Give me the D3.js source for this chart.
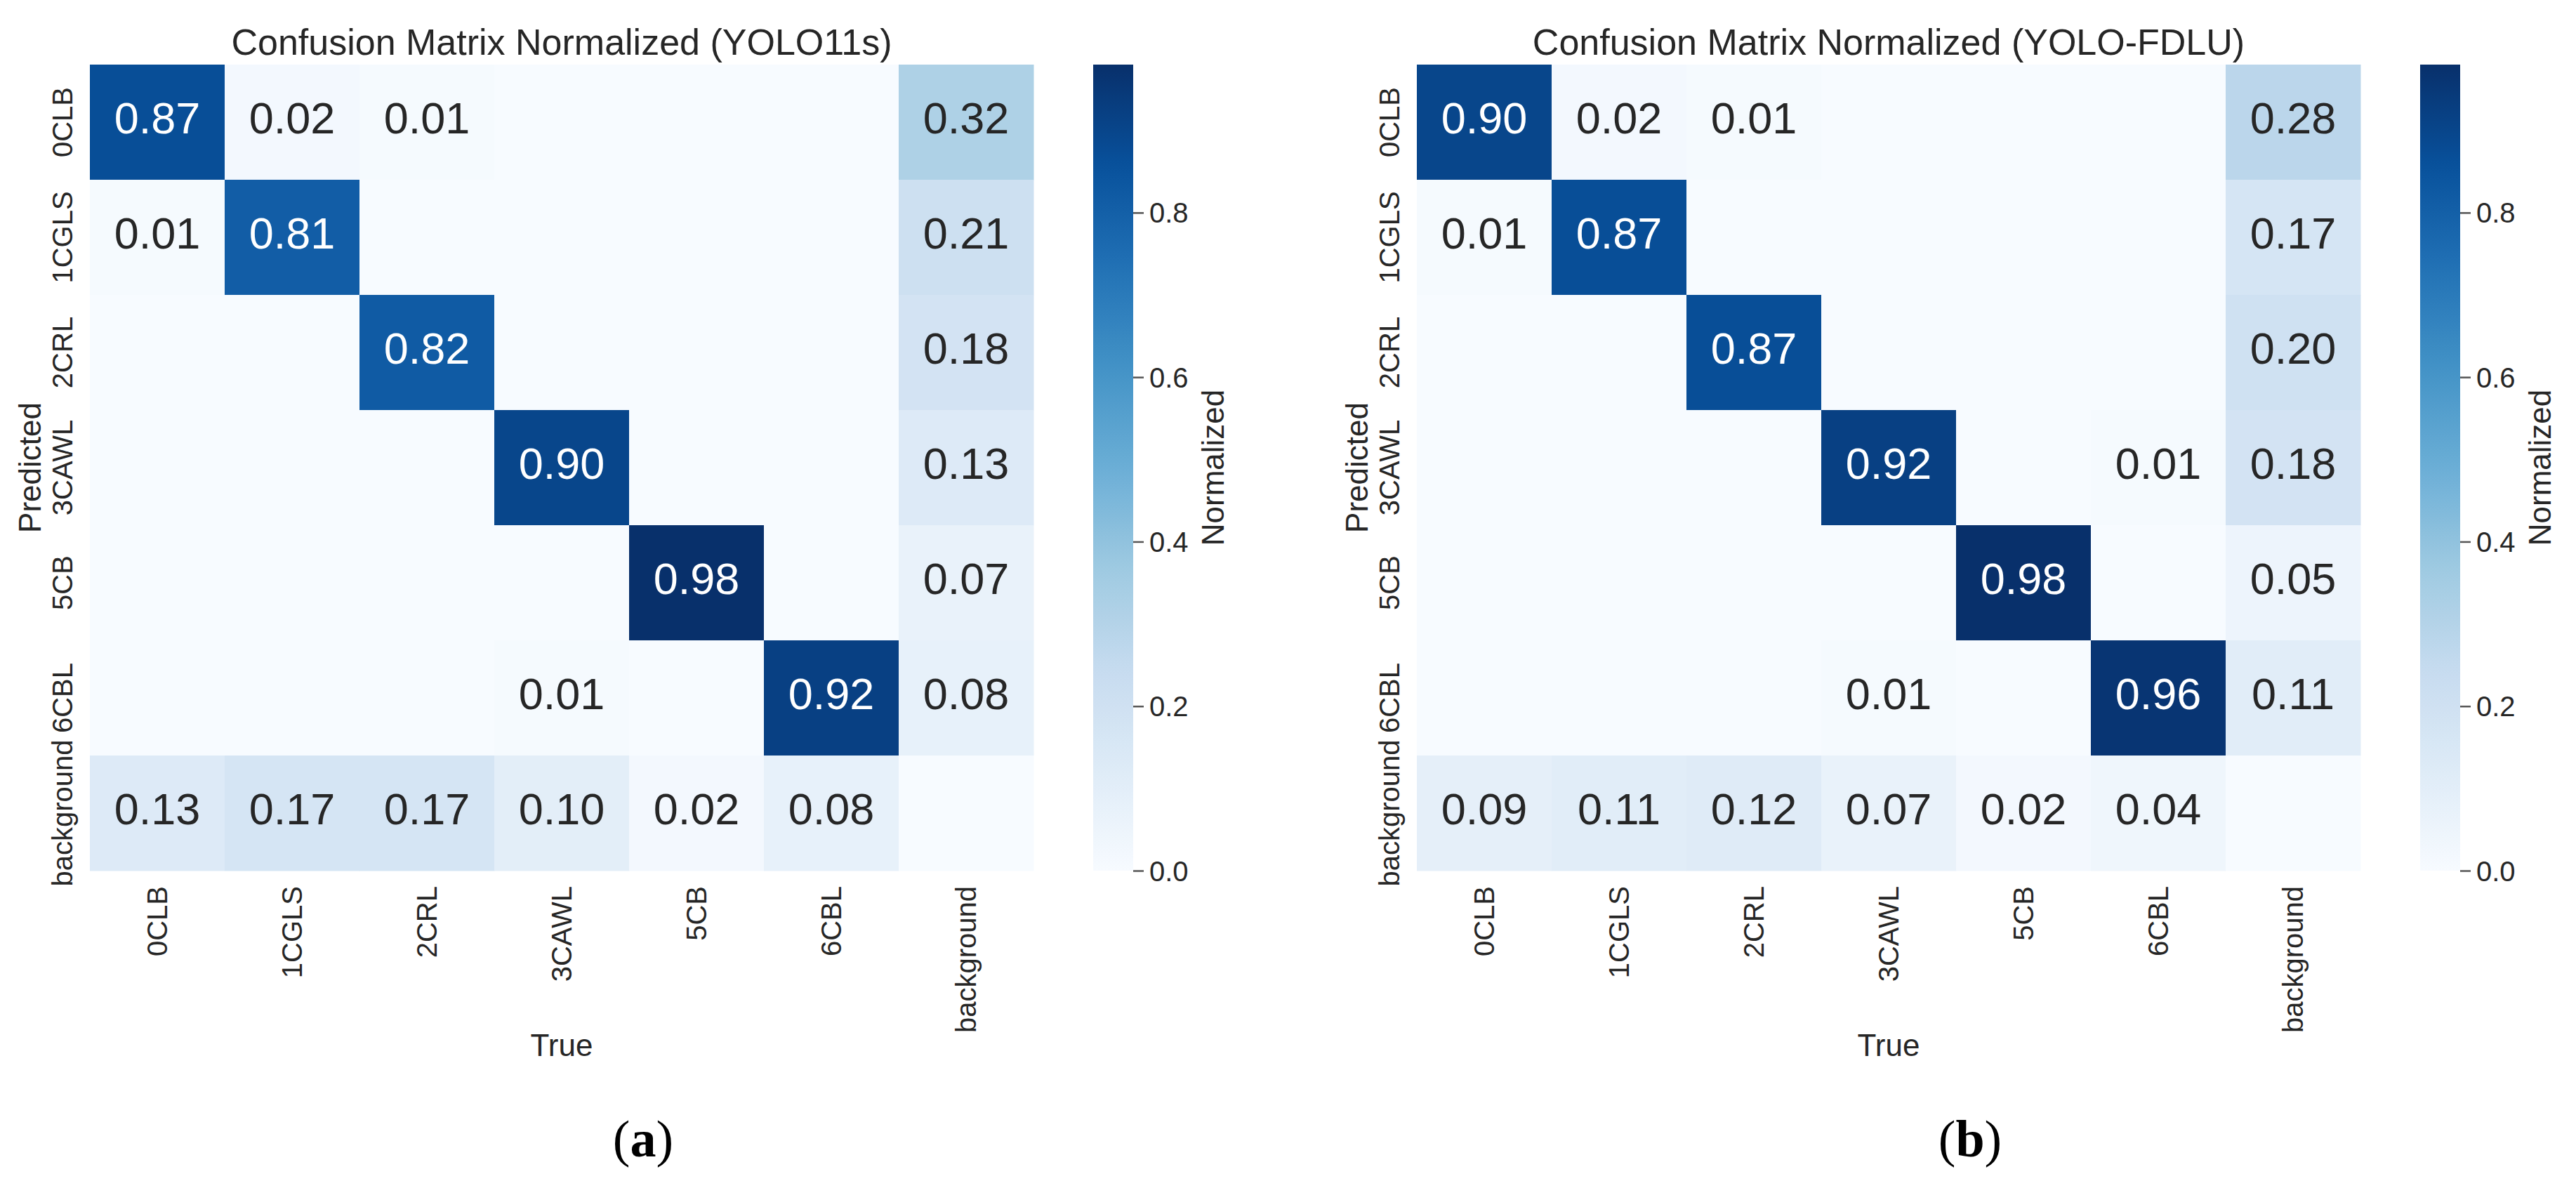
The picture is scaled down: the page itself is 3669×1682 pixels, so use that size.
<!DOCTYPE html>
<html lang="en">
<head>
<meta charset="UTF-8">
<title>Confusion Matrix Normalized</title>
<style>
    body { margin: 0; background: #fff; }
    svg { display: block; }
    text { font-family: "Liberation Sans", Arial, sans-serif; fill: #262626; }
    .tag { font-family: "Liberation Serif", "Times New Roman", serif; fill: #000; }
</style>
</head>
<body>
<svg id="chart" width="3669" height="1682"></svg>
<script src="https://d3js.org/d3.v7.min.js"></script>
<script>

// class names, used for both axes (rows = Predicted, columns = True)
const classes = ["0CLB", "1CGLS", "2CRL", "3CAWL", "5CB", "6CBL", "background"];

// YOLO11s, rows = predicted, columns = true
const yolo11s = [
    [0.87, 0.02, 0.01, 0.00, 0.00, 0.00, 0.32],
    [0.01, 0.81, 0.00, 0.00, 0.00, 0.00, 0.21],
    [0.00, 0.00, 0.82, 0.00, 0.00, 0.00, 0.18],
    [0.00, 0.00, 0.00, 0.90, 0.00, 0.00, 0.13],
    [0.00, 0.00, 0.00, 0.00, 0.98, 0.00, 0.07],
    [0.00, 0.00, 0.00, 0.01, 0.00, 0.92, 0.08],
    [0.13, 0.17, 0.17, 0.10, 0.02, 0.08, 0.00]
];

// YOLO-FDLU
const yoloFdlu = [
    [0.90, 0.02, 0.01, 0.00, 0.00, 0.00, 0.28],
    [0.01, 0.87, 0.00, 0.00, 0.00, 0.00, 0.17],
    [0.00, 0.00, 0.87, 0.00, 0.00, 0.00, 0.20],
    [0.00, 0.00, 0.00, 0.92, 0.00, 0.01, 0.18],
    [0.00, 0.00, 0.00, 0.00, 0.98, 0.00, 0.05],
    [0.00, 0.00, 0.00, 0.01, 0.00, 0.96, 0.11],
    [0.09, 0.11, 0.12, 0.07, 0.02, 0.04, 0.00]
];

const titles = ["Confusion Matrix Normalized (YOLO11s)", "Confusion Matrix Normalized (YOLO-FDLU)"];
const panelTags = ["a", "b"];
const colorbarTicks = [0.0, 0.2, 0.4, 0.6, 0.8];

// matplotlib "Blues" anchor colours (linear segments)
const blues = ["#f7fbff", "#deebf7", "#c6dbef", "#9ecae1", "#6baed6",
               "#4292c6", "#2171b5", "#08519c", "#08306b"];

const svg = d3.select("#chart");

// layout
const gridW = 1344, gridH = 1148, gridTop = 92;
const panelLeft = [128, 2018];

function luminance(c) {
    const rgb = d3.rgb(c);
    const f = v => {
        v /= 255;
        return v <= 0.03928 ? v / 12.92 : Math.pow((v + 0.055) / 1.055, 2.4);
    };
    return 0.2126 * f(rgb.r) + 0.7152 * f(rgb.g) + 0.0722 * f(rgb.b);
}

function drawPanel(data, idx) {
    const left = panelLeft[idx];
    const g = svg.append("g");

    const vmin = d3.min(data.flat()), vmax = d3.max(data.flat());
    const color = d3.scaleLinear()
        .domain(blues.map((_, i) => vmin + i / (blues.length - 1) * (vmax - vmin)))
        .range(blues)
        .clamp(true);

    const x = d3.scaleBand().domain(classes).range([left, left + gridW]);
    const y = d3.scaleBand().domain(classes).range([gridTop, gridTop + gridH]);

    const cells = [];
    data.forEach((row, i) => row.forEach((v, j) => cells.push({ pred: classes[i], truth: classes[j], v })));

    g.selectAll("rect.cell")
        .data(cells)
        .join("rect")
        .attr("class", "cell")
        .attr("x", d => x(d.truth))
        .attr("y", d => y(d.pred))
        .attr("width", x.bandwidth() + 0.5)
        .attr("height", y.bandwidth() + 0.5)
        .attr("fill", d => color(d.v));

    // annotations, zeros left blank
    const fmt = d3.format(".2f");
    const annFs = 63;
    g.selectAll("text.ann")
        .data(cells.filter(d => d.v > 0))
        .join("text")
        .attr("class", "ann")
        .attr("x", d => x(d.truth) + x.bandwidth() / 2)
        .attr("y", d => y(d.pred) + y.bandwidth() / 2 + annFs * 0.25)
        .attr("text-anchor", "middle")
        .style("font-size", annFs + "px")
        .style("fill", d => luminance(color(d.v)) > 0.408 ? "#262626" : "#ffffff")
        .text(d => fmt(d.v));

    // row labels (predicted)
    g.selectAll("text.ylab")
        .data(classes)
        .join("text")
        .attr("class", "ylab")
        .attr("transform", d => `translate(${left - 25},${y(d) + y.bandwidth() / 2}) rotate(-90)`)
        .attr("text-anchor", "middle")
        .style("font-size", "40px")
        .text(d => d);

    // column labels (true)
    g.selectAll("text.xlab")
        .data(classes)
        .join("text")
        .attr("class", "xlab")
        .attr("transform", d => `translate(${x(d) + x.bandwidth() / 2 + 14},${gridTop + gridH + 22}) rotate(-90)`)
        .attr("text-anchor", "end")
        .style("font-size", "40px")
        .text(d => d);

    g.append("text")
        .attr("x", left + gridW / 2)
        .attr("y", 78)
        .attr("text-anchor", "middle")
        .style("font-size", "52px")
        .text(titles[idx]);

    g.append("text")
        .attr("x", left + gridW / 2)
        .attr("y", 1504)
        .attr("text-anchor", "middle")
        .style("font-size", "44px")
        .text("True");

    g.append("text")
        .attr("transform", `translate(${left - 70},${gridTop + gridH / 2}) rotate(-90)`)
        .attr("text-anchor", "middle")
        .style("font-size", "44px")
        .text("Predicted");

    // colorbar
    const cbX = left + gridW + 85, cbW = 57;
    const cbScale = d3.scaleLinear().domain([vmin, vmax]).range([gridTop + gridH, gridTop]);
    const gradId = "cbgrad" + idx;
    const grad = svg.append("defs").append("linearGradient")
        .attr("id", gradId)
        .attr("x1", 0).attr("y1", 1).attr("x2", 0).attr("y2", 0);
    d3.range(0, 1.0001, 0.02).forEach(t => {
        grad.append("stop")
            .attr("offset", t)
            .attr("stop-color", color(vmin + t * (vmax - vmin)));
    });
    g.append("rect")
        .attr("x", cbX)
        .attr("y", gridTop)
        .attr("width", cbW)
        .attr("height", gridH)
        .attr("fill", `url(#${gradId})`);

    const cbAxis = g.append("g")
        .attr("transform", `translate(${cbX + cbW},0)`)
        .call(d3.axisRight(cbScale).tickValues(colorbarTicks).tickFormat(d3.format(".1f")).tickSize(15).tickPadding(8));
    cbAxis.select(".domain").remove();
    cbAxis.selectAll("line").attr("stroke", "#555").attr("stroke-width", 2.5);
    cbAxis.selectAll("text")
        .attr("dy", "0.35em")
        .style("font-size", "40px")
        .style("font-family", "'Liberation Sans', Arial, sans-serif")
        .attr("fill", "#262626");

    g.append("text")
        .attr("transform", `translate(${cbX + cbW + 129},${gridTop + gridH / 2}) rotate(-90)`)
        .attr("text-anchor", "middle")
        .style("font-size", "44px")
        .text("Normalized");

    // sub-figure tag
    const tag = g.append("text")
        .attr("class", "tag")
        .attr("x", left + gridW / 2 + 116)
        .attr("y", 1647)
        .attr("text-anchor", "middle")
        .style("font-size", "74px");
    tag.append("tspan").text("(");
    tag.append("tspan").style("font-weight", "bold").text(panelTags[idx]);
    tag.append("tspan").text(")");
}

drawPanel(yolo11s, 0);
drawPanel(yoloFdlu, 1);
</script>
</body>
</html>
